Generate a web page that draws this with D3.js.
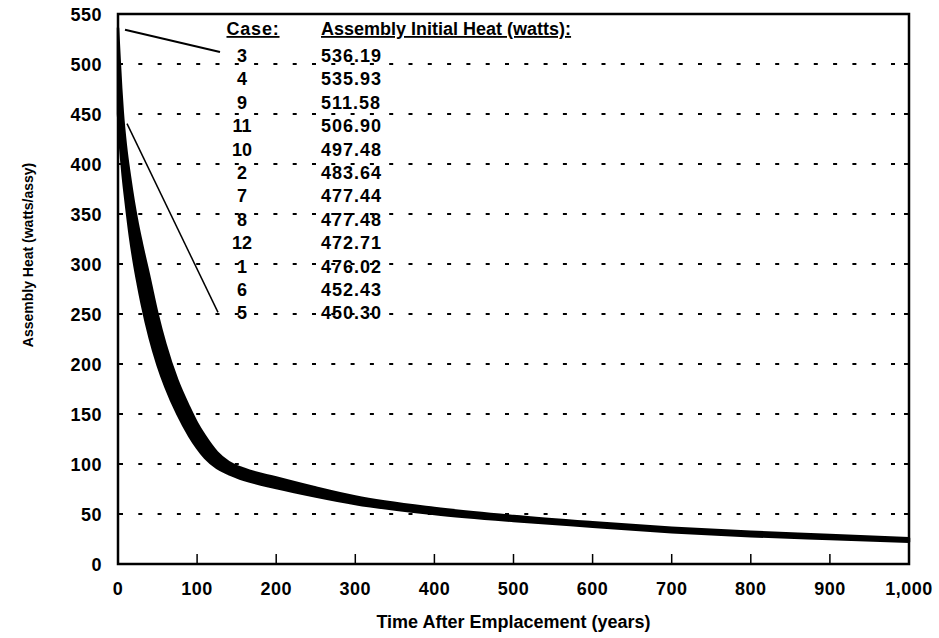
<!DOCTYPE html>
<html>
<head>
<meta charset="utf-8">
<script src="https://cdn.jsdelivr.net/npm/d3@7"></script>
<style>
  body { margin: 0; background: #fff; }
  svg { display: block; font-family: "Liberation Sans", Arial, Helvetica, sans-serif; font-weight: bold; }
</style>
</head>
<body>
<div id="chart"></div>
<script>
// Cases listed in the table, top to bottom, with their initial heat (watts)
var caseIds = [3, 4, 9, 11, 10, 2, 7, 8, 12, 1, 6, 5];
var initialHeat = [536.19, 535.93, 511.58, 506.90, 497.48, 483.64, 477.44, 477.48, 472.71, 476.02, 452.43, 450.30];

// Envelope of the decay curves (years after emplacement -> watts/assy)
var years     = [0,   2,   4,   6,   10,  15,  20,  25,  30,  40,  50,  60,  75,  90,  100, 110, 125, 140, 160, 200,  250,  300,  400, 500, 600,  700,  800,  900,  1000];
var heatUpper = [536, 505, 476, 452, 418, 388, 362, 340, 321, 286, 250, 220, 184, 157, 141, 128, 112, 102, 95,  86.5, 76.5, 67.5, 56,  48,  41.7, 36.2, 32.2, 29.1, 25.8];
var heatLower = [450, 425, 405, 388, 360, 328, 302, 280, 260, 226, 199, 177, 150, 128, 116, 106, 96,  90,  84,  76,   67.5, 60,   50,  43,  37.3, 31.8, 27.8, 24.9, 22.2];

var xTicks = [0, 100, 200, 300, 400, 500, 600, 700, 800, 900, 1000];
var yTicks = [0, 50, 100, 150, 200, 250, 300, 350, 400, 450, 500, 550];

var width = 939, height = 638;
var margin = {top: 14, right: 30, bottom: 74, left: 118};

var svg = d3.select('#chart')
    .append('svg')
    .attr('width', width)
    .attr('height', height);

var x = d3.scaleLinear().domain([0, 1000]).range([margin.left, width - margin.right]);
var y = d3.scaleLinear().domain([0, 550]).range([height - margin.bottom, margin.top]);

var inner = yTicks.filter(function (d) { return d > 0 && d < 550; });

// dotted grid lines
svg.append('g')
    .selectAll('line')
    .data(inner)
    .enter()
    .append('line')
    .attr('x1', x(0))
    .attr('x2', x(1000))
    .attr('y1', function (d) { return y(d); })
    .attr('y2', function (d) { return y(d); })
    .attr('stroke', '#000')
    .attr('stroke-width', 2)
    .attr('stroke-dasharray', '4,15.3')
    .attr('stroke-dashoffset', -1);

// small ticks on the right frame
svg.append('g')
    .selectAll('line')
    .data(inner)
    .enter()
    .append('line')
    .attr('x1', x(1000) - 5)
    .attr('x2', x(1000))
    .attr('y1', function (d) { return y(d); })
    .attr('y2', function (d) { return y(d); })
    .attr('stroke', '#000')
    .attr('stroke-width', 2);

// the band of decay curves
var band = years.map(function (t, i) {
    return {t: t, hi: heatUpper[i], lo: heatLower[i]};
});
var area = d3.area()
    .x(function (d) { return x(d.t); })
    .y0(function (d) { return y(d.lo); })
    .y1(function (d) { return y(d.hi); })
    .curve(d3.curveMonotoneX);

svg.append('path')
    .datum(band)
    .attr('d', area)
    .attr('fill', '#000')
    .attr('stroke', '#000')
    .attr('stroke-width', 2.5)
    .attr('stroke-linejoin', 'round');

// x axis ticks (pointing up into the plot)
svg.append('g')
    .selectAll('line')
    .data(xTicks.filter(function (d) { return d > 0 && d < 1000; }))
    .enter()
    .append('line')
    .attr('x1', function (d) { return x(d); })
    .attr('x2', function (d) { return x(d); })
    .attr('y1', y(0))
    .attr('y2', y(0) - 10)
    .attr('stroke', '#000')
    .attr('stroke-width', 1.5);

// frame
svg.append('rect')
    .attr('x', x(0))
    .attr('y', y(550))
    .attr('width', x(1000) - x(0))
    .attr('height', y(0) - y(550))
    .attr('fill', 'none')
    .attr('stroke', '#000')
    .attr('stroke-width', 2.5);

// tick labels
var fmt = d3.format(',');
svg.append('g')
    .selectAll('text')
    .data(xTicks)
    .enter()
    .append('text')
    .attr('x', function (d) { return x(d); })
    .attr('y', y(0) + 31)
    .attr('text-anchor', 'middle')
    .style('font-size', '18px')
    .style('letter-spacing', '0.5px')
    .text(function (d) { return fmt(d); });

svg.append('g')
    .selectAll('text')
    .data(yTicks)
    .enter()
    .append('text')
    .attr('x', x(0) - 16)
    .attr('y', function (d) { return y(d) + 6.5; })
    .attr('text-anchor', 'end')
    .style('font-size', '18px')
    .style('letter-spacing', '0.5px')
    .text(function (d) { return d; });

// axis titles
svg.append('text')
    .attr('x', (x(0) + x(1000)) / 2)
    .attr('y', 628)
    .attr('text-anchor', 'middle')
    .style('font-size', '18px')
    .text('Time After Emplacement (years)');

svg.append('text')
    .attr('transform', 'translate(33,255) rotate(-90)')
    .attr('text-anchor', 'middle')
    .style('font-size', '14px')
    .text('Assembly Heat (watts/assy)');

// table of cases
var caseX = 242, heatX = 321, rowTop = 62, rowStep = 23.4;

svg.append('text')
    .attr('x', caseX + 11)
    .attr('y', 35)
    .attr('text-anchor', 'middle')
    .style('font-size', '18px')
    .style('letter-spacing', '0.8px')
    .style('text-decoration', 'underline')
    .text('Case:');

svg.append('text')
    .attr('x', heatX)
    .attr('y', 35)
    .style('font-size', '18px')
    .style('text-decoration', 'underline')
    .text('Assembly Initial Heat (watts):');

svg.append('g')
    .selectAll('text')
    .data(caseIds)
    .enter()
    .append('text')
    .attr('x', caseX)
    .attr('y', function (d, i) { return rowTop + i * rowStep; })
    .attr('text-anchor', 'middle')
    .style('font-size', '18px')
    .text(function (d) { return d; });

svg.append('g')
    .selectAll('text')
    .data(initialHeat)
    .enter()
    .append('text')
    .attr('x', heatX)
    .attr('y', function (d, i) { return rowTop + i * rowStep; })
    .style('font-size', '18px')
    .style('letter-spacing', '1px')
    .text(function (d) { return d3.format('.2f')(d); });

// leader lines from the table to the highest and lowest curves
var last = caseIds.length - 1;
svg.append('line')
    .attr('x1', x(0) + 7)
    .attr('y1', y(initialHeat[0]) + 2)
    .attr('x2', caseX - 22)
    .attr('y2', rowTop - 10)
    .attr('stroke', '#000')
    .attr('stroke-width', 2);

svg.append('line')
    .attr('x1', x(0) + 9)
    .attr('y1', y(initialHeat[last]) + 10)
    .attr('x2', caseX - 24)
    .attr('y2', rowTop + last * rowStep - 7)
    .attr('stroke', '#000')
    .attr('stroke-width', 1.5);
</script>
</body>
</html>
